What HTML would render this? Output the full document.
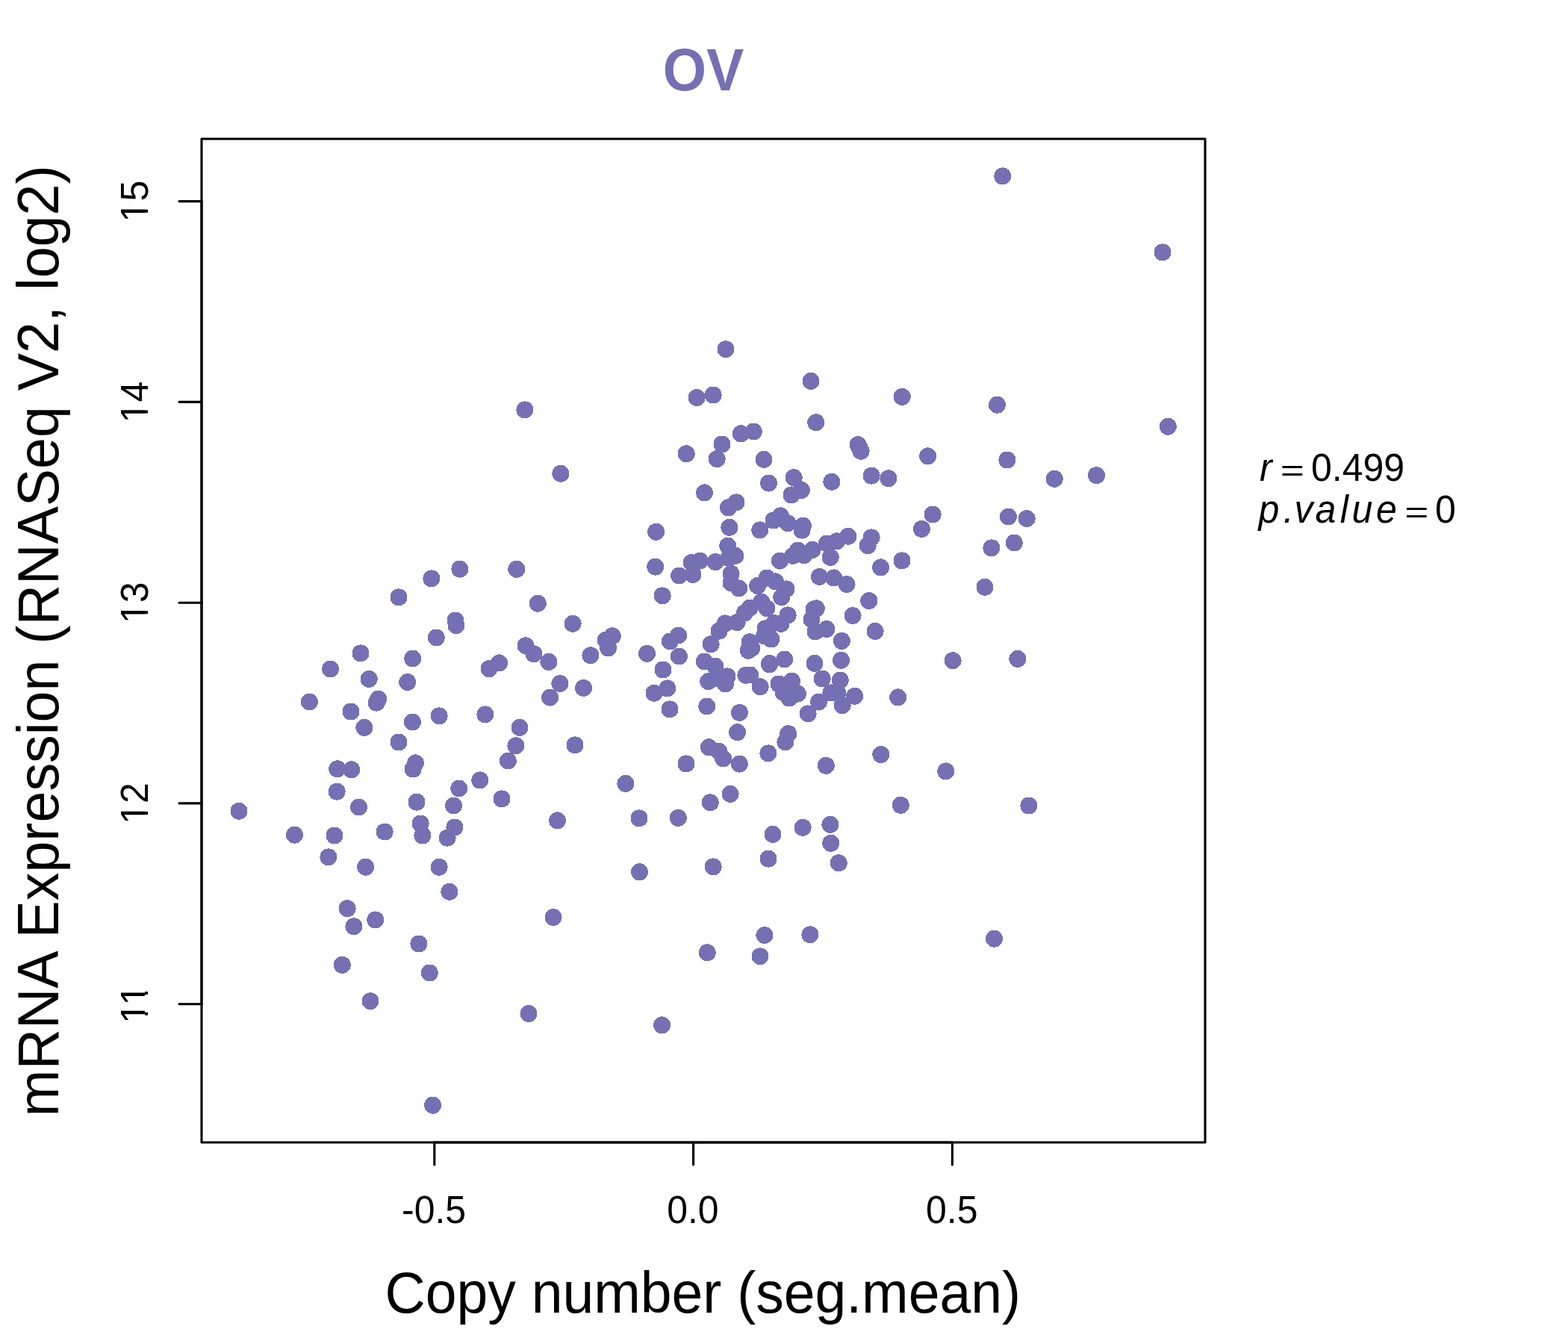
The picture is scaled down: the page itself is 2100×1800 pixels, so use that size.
<!DOCTYPE html>
<html lang="en"><head><meta charset="utf-8"><title>OV</title>
<style>
html,body{margin:0;padding:0;background:#fff}
body{width:2100px;height:1800px;overflow:hidden}
svg{display:block}
text{font-family:"Liberation Sans",Arial,Helvetica,sans-serif;fill:#000}
.pt{fill:#7570B3}
.ln{stroke:#000;stroke-width:3.1;fill:none;stroke-linecap:round;stroke-linejoin:round}
</style></head>
<body>
<svg xmlns="http://www.w3.org/2000/svg" width="2100" height="1800" viewBox="0 0 2100 1800">
<rect width="2100" height="1800" fill="#fff"/>
<g class="pt" shape-rendering="crispEdges">
<circle cx="1128.1" cy="944.7" r="11.5"/>
<circle cx="943.2" cy="886.0" r="11.5"/>
<circle cx="958.0" cy="892.3" r="11.5"/>
<circle cx="1037.1" cy="834.5" r="11.5"/>
<circle cx="1046.0" cy="835.3" r="11.5"/>
<circle cx="1027.0" cy="814.6" r="11.5"/>
<circle cx="1004.2" cy="814.0" r="11.5"/>
<circle cx="1144.6" cy="932.3" r="11.5"/>
<circle cx="1142.1" cy="824.5" r="11.5"/>
<circle cx="1044.4" cy="751.1" r="11.5"/>
<circle cx="1055.1" cy="823.9" r="11.5"/>
<circle cx="1025.1" cy="841.9" r="11.5"/>
<circle cx="1121.8" cy="928.1" r="11.5"/>
<circle cx="1057.0" cy="935.0" r="11.5"/>
<circle cx="1112.9" cy="927.9" r="11.5"/>
<circle cx="997.2" cy="820.9" r="11.5"/>
<circle cx="1019.8" cy="806.2" r="11.5"/>
<circle cx="984.9" cy="744.3" r="11.5"/>
<circle cx="1163.8" cy="804.6" r="11.5"/>
<circle cx="1172.1" cy="845.4" r="11.5"/>
<circle cx="974.0" cy="905.9" r="11.5"/>
<circle cx="952.1" cy="862.8" r="11.5"/>
<circle cx="1049.0" cy="927.4" r="11.5"/>
<circle cx="990.4" cy="954.4" r="11.5"/>
<circle cx="1046.8" cy="799.8" r="11.5"/>
<circle cx="909.4" cy="879.0" r="11.5"/>
<circle cx="948.7" cy="912.6" r="11.5"/>
<circle cx="987.1" cy="833.6" r="11.5"/>
<circle cx="1068.4" cy="929.1" r="11.5"/>
<circle cx="1096.5" cy="940.1" r="11.5"/>
<circle cx="1018.1" cy="919.8" r="11.5"/>
<circle cx="974.8" cy="731.2" r="11.5"/>
<circle cx="987.6" cy="980.7" r="11.5"/>
<circle cx="1032.9" cy="856.0" r="11.5"/>
<circle cx="971.5" cy="916.0" r="11.5"/>
<circle cx="1061.9" cy="744.3" r="11.5"/>
<circle cx="1055.7" cy="982.7" r="11.5"/>
<circle cx="1127.3" cy="858.4" r="11.5"/>
<circle cx="1043.0" cy="916.0" r="11.5"/>
<circle cx="908.6" cy="851.0" r="11.5"/>
<circle cx="1125.2" cy="911.0" r="11.5"/>
<circle cx="1004.2" cy="859.8" r="11.5"/>
<circle cx="1017.8" cy="709.9" r="11.5"/>
<circle cx="1101.1" cy="909.0" r="11.5"/>
<circle cx="1053.0" cy="788.9" r="11.5"/>
<circle cx="989.8" cy="788.0" r="11.5"/>
<circle cx="1060.4" cy="912.2" r="11.5"/>
<circle cx="897.2" cy="859.0" r="11.5"/>
<circle cx="1068.5" cy="737.1" r="11.5"/>
<circle cx="976.9" cy="706.3" r="11.5"/>
<circle cx="998.9" cy="904.2" r="11.5"/>
<circle cx="963.0" cy="845.1" r="11.5"/>
<circle cx="1014.7" cy="784.5" r="11.5"/>
<circle cx="893.8" cy="921.9" r="11.5"/>
<circle cx="1082.1" cy="955.9" r="11.5"/>
<circle cx="1002.3" cy="871.2" r="11.5"/>
<circle cx="1134.1" cy="782.5" r="11.5"/>
<circle cx="1006.7" cy="868.2" r="11.5"/>
<circle cx="971.2" cy="834.9" r="11.5"/>
<circle cx="1051.9" cy="993.9" r="11.5"/>
<circle cx="1074.0" cy="710.1" r="11.5"/>
<circle cx="979.0" cy="780.8" r="11.5"/>
<circle cx="1055.0" cy="700.8" r="11.5"/>
<circle cx="1004.8" cy="904.0" r="11.5"/>
<circle cx="1075.4" cy="704.2" r="11.5"/>
<circle cx="1038.4" cy="778.9" r="11.5"/>
<circle cx="958.3" cy="752.6" r="11.5"/>
<circle cx="1087.0" cy="829.8" r="11.5"/>
<circle cx="1077.0" cy="743.6" r="11.5"/>
<circle cx="888.0" cy="897.0" r="11.5"/>
<circle cx="1107.0" cy="842.5" r="11.5"/>
<circle cx="1036.0" cy="697.0" r="11.5"/>
<circle cx="1027.0" cy="774.1" r="11.5"/>
<circle cx="1116.7" cy="773.9" r="11.5"/>
<circle cx="1092.0" cy="845.9" r="11.5"/>
<circle cx="1202.7" cy="933.9" r="11.5"/>
<circle cx="1093.3" cy="814.9" r="11.5"/>
<circle cx="1045.3" cy="690.9" r="11.5"/>
<circle cx="1091.0" cy="888.3" r="11.5"/>
<circle cx="979.1" cy="768.2" r="11.5"/>
<circle cx="1097.5" cy="772.4" r="11.5"/>
<circle cx="1050.8" cy="883.0" r="11.5"/>
<circle cx="1088.1" cy="736.3" r="11.5"/>
<circle cx="1028.9" cy="1008.9" r="11.5"/>
<circle cx="876.0" cy="928.2" r="11.5"/>
<circle cx="1126.5" cy="884.3" r="11.5"/>
<circle cx="946.8" cy="946.0" r="11.5"/>
<circle cx="1030.8" cy="888.5" r="11.5"/>
<circle cx="494.2" cy="909.4" r="11.5"/>
<circle cx="1468.5" cy="636.6" r="11.5"/>
<circle cx="442.5" cy="896.0" r="11.5"/>
<circle cx="1412.2" cy="641.3" r="11.5"/>
<circle cx="1113.9" cy="645.2" r="11.5"/>
<circle cx="781.5" cy="921.4" r="11.5"/>
<circle cx="489.6" cy="1161.2" r="11.5"/>
<circle cx="750.9" cy="634.2" r="11.5"/>
<circle cx="749.9" cy="915.5" r="11.5"/>
<circle cx="1167.1" cy="637.1" r="11.5"/>
<circle cx="1123.2" cy="1155.8" r="11.5"/>
<circle cx="1153.1" cy="604.2" r="11.5"/>
<circle cx="1073.4" cy="656.5" r="11.5"/>
<circle cx="790.9" cy="877.8" r="11.5"/>
<circle cx="483.0" cy="874.9" r="11.5"/>
<circle cx="506.8" cy="936.1" r="11.5"/>
<circle cx="1063.2" cy="639.6" r="11.5"/>
<circle cx="439.9" cy="1147.9" r="11.5"/>
<circle cx="736.6" cy="934.1" r="11.5"/>
<circle cx="1149.1" cy="595.7" r="11.5"/>
<circle cx="1060.0" cy="662.9" r="11.5"/>
<circle cx="414.3" cy="940.0" r="11.5"/>
<circle cx="734.9" cy="886.4" r="11.5"/>
<circle cx="504.1" cy="941.1" r="11.5"/>
<circle cx="856.5" cy="1167.8" r="11.5"/>
<circle cx="465.1" cy="1216.8" r="11.5"/>
<circle cx="814.6" cy="867.8" r="11.5"/>
<circle cx="1189.9" cy="640.8" r="11.5"/>
<circle cx="866.5" cy="875.3" r="11.5"/>
<circle cx="811.2" cy="857.2" r="11.5"/>
<circle cx="470.0" cy="953.0" r="11.5"/>
<circle cx="741.1" cy="1228.5" r="11.5"/>
<circle cx="545.7" cy="913.6" r="11.5"/>
<circle cx="1112.7" cy="1129.3" r="11.5"/>
<circle cx="502.8" cy="1231.9" r="11.5"/>
<circle cx="820.2" cy="851.8" r="11.5"/>
<circle cx="714.9" cy="875.8" r="11.5"/>
<circle cx="1362.9" cy="882.4" r="11.5"/>
<circle cx="552.8" cy="882.0" r="11.5"/>
<circle cx="473.9" cy="1240.8" r="11.5"/>
<circle cx="448.0" cy="1119.0" r="11.5"/>
<circle cx="394.5" cy="1118.2" r="11.5"/>
<circle cx="552.4" cy="967.0" r="11.5"/>
<circle cx="1035.0" cy="1117.3" r="11.5"/>
<circle cx="1092.8" cy="565.8" r="11.5"/>
<circle cx="1375.2" cy="694.5" r="11.5"/>
<circle cx="1029.5" cy="647.1" r="11.5"/>
<circle cx="704.0" cy="864.8" r="11.5"/>
<circle cx="515.1" cy="1114.0" r="11.5"/>
<circle cx="1029.0" cy="1150.1" r="11.5"/>
<circle cx="487.9" cy="974.4" r="11.5"/>
<circle cx="1350.4" cy="692.0" r="11.5"/>
<circle cx="767.1" cy="835.2" r="11.5"/>
<circle cx="565.9" cy="1119.0" r="11.5"/>
<circle cx="1348.9" cy="616.0" r="11.5"/>
<circle cx="1075.1" cy="1108.2" r="11.5"/>
<circle cx="1084.9" cy="1251.8" r="11.5"/>
<circle cx="1023.0" cy="615.3" r="11.5"/>
<circle cx="1023.9" cy="1252.5" r="11.5"/>
<circle cx="696.0" cy="974.4" r="11.5"/>
<circle cx="1111.9" cy="1104.3" r="11.5"/>
<circle cx="897.0" cy="949.9" r="11.5"/>
<circle cx="563.1" cy="1103.0" r="11.5"/>
<circle cx="702.9" cy="548.9" r="11.5"/>
<circle cx="746.5" cy="1098.9" r="11.5"/>
<circle cx="886.6" cy="1372.9" r="11.5"/>
<circle cx="878.6" cy="712.3" r="11.5"/>
<circle cx="560.9" cy="1264.0" r="11.5"/>
<circle cx="856.0" cy="1095.9" r="11.5"/>
<circle cx="579.6" cy="1480.2" r="11.5"/>
<circle cx="1009.2" cy="578.0" r="11.5"/>
<circle cx="1557.0" cy="337.9" r="11.5"/>
<circle cx="1335.5" cy="542.2" r="11.5"/>
<circle cx="1135.9" cy="718.2" r="11.5"/>
<circle cx="908.3" cy="1095.4" r="11.5"/>
<circle cx="1331.5" cy="1257.2" r="11.5"/>
<circle cx="534.0" cy="994.0" r="11.5"/>
<circle cx="584.2" cy="854.0" r="11.5"/>
<circle cx="1234.4" cy="708.4" r="11.5"/>
<circle cx="1167.1" cy="719.9" r="11.5"/>
<circle cx="770.0" cy="997.9" r="11.5"/>
<circle cx="588.1" cy="958.9" r="11.5"/>
<circle cx="588.1" cy="1161.2" r="11.5"/>
<circle cx="690.9" cy="998.8" r="11.5"/>
<circle cx="1564.3" cy="571.2" r="11.5"/>
<circle cx="1120.7" cy="724.9" r="11.5"/>
<circle cx="720.3" cy="808.2" r="11.5"/>
<circle cx="1358.2" cy="727.0" r="11.5"/>
<circle cx="708.0" cy="1357.5" r="11.5"/>
<circle cx="1242.6" cy="610.9" r="11.5"/>
<circle cx="1107.2" cy="728.0" r="11.5"/>
<circle cx="1208.2" cy="531.4" r="11.5"/>
<circle cx="480.5" cy="1081.0" r="11.5"/>
<circle cx="919.2" cy="607.7" r="11.5"/>
<circle cx="1162.1" cy="730.8" r="11.5"/>
<circle cx="1018.0" cy="1280.8" r="11.5"/>
<circle cx="1377.9" cy="1079.0" r="11.5"/>
<circle cx="668.6" cy="887.9" r="11.5"/>
<circle cx="1206.3" cy="1078.3" r="11.5"/>
<circle cx="992.3" cy="580.8" r="11.5"/>
<circle cx="1327.9" cy="733.9" r="11.5"/>
<circle cx="599.1" cy="1122.1" r="11.5"/>
<circle cx="1249.1" cy="689.0" r="11.5"/>
<circle cx="534.0" cy="799.9" r="11.5"/>
<circle cx="1179.8" cy="1010.6" r="11.5"/>
<circle cx="558.0" cy="1074.1" r="11.5"/>
<circle cx="601.9" cy="1194.2" r="11.5"/>
<circle cx="887.1" cy="797.9" r="11.5"/>
<circle cx="986.0" cy="672.9" r="11.5"/>
<circle cx="672.0" cy="1069.9" r="11.5"/>
<circle cx="458.3" cy="1292.3" r="11.5"/>
<circle cx="607.5" cy="1079.0" r="11.5"/>
<circle cx="933.2" cy="532.5" r="11.5"/>
<circle cx="608.9" cy="1108.0" r="11.5"/>
<circle cx="680.3" cy="1019.0" r="11.5"/>
<circle cx="496.0" cy="1340.8" r="11.5"/>
<circle cx="610.0" cy="831.0" r="11.5"/>
<circle cx="655.0" cy="895.7" r="11.5"/>
<circle cx="611.0" cy="837.8" r="11.5"/>
<circle cx="1112.2" cy="746.4" r="11.5"/>
<circle cx="556.5" cy="1021.9" r="11.5"/>
<circle cx="978.1" cy="1063.4" r="11.5"/>
<circle cx="919.0" cy="1022.9" r="11.5"/>
<circle cx="990.3" cy="1023.1" r="11.5"/>
<circle cx="1319.0" cy="786.2" r="11.5"/>
<circle cx="1342.8" cy="235.9" r="11.5"/>
<circle cx="1086.0" cy="510.4" r="11.5"/>
<circle cx="975.4" cy="679.8" r="11.5"/>
<circle cx="451.1" cy="1060.1" r="11.5"/>
<circle cx="649.9" cy="956.9" r="11.5"/>
<circle cx="1106.3" cy="1025.3" r="11.5"/>
<circle cx="1208.0" cy="750.9" r="11.5"/>
<circle cx="937.2" cy="751.1" r="11.5"/>
<circle cx="575.2" cy="1303.0" r="11.5"/>
<circle cx="972.0" cy="467.8" r="11.5"/>
<circle cx="943.5" cy="659.9" r="11.5"/>
<circle cx="926.2" cy="753.6" r="11.5"/>
<circle cx="614.8" cy="1056.0" r="11.5"/>
<circle cx="451.8" cy="1029.8" r="11.5"/>
<circle cx="553.1" cy="1030.0" r="11.5"/>
<circle cx="320.0" cy="1086.2" r="11.5"/>
<circle cx="470.7" cy="1030.8" r="11.5"/>
<circle cx="947.2" cy="1275.8" r="11.5"/>
<circle cx="1266.8" cy="1032.9" r="11.5"/>
<circle cx="967.0" cy="595.0" r="11.5"/>
<circle cx="877.8" cy="759.1" r="11.5"/>
<circle cx="949.4" cy="1000.8" r="11.5"/>
<circle cx="1179.5" cy="759.9" r="11.5"/>
<circle cx="577.9" cy="774.9" r="11.5"/>
<circle cx="837.9" cy="1049.4" r="11.5"/>
<circle cx="1276.1" cy="884.7" r="11.5"/>
<circle cx="951.2" cy="1074.8" r="11.5"/>
<circle cx="691.8" cy="762.3" r="11.5"/>
<circle cx="909.7" cy="771.0" r="11.5"/>
<circle cx="960.2" cy="614.6" r="11.5"/>
<circle cx="955.1" cy="529.0" r="11.5"/>
<circle cx="642.8" cy="1044.9" r="11.5"/>
<circle cx="955.1" cy="1160.9" r="11.5"/>
<circle cx="927.9" cy="769.4" r="11.5"/>
<circle cx="615.9" cy="762.1" r="11.5"/>
<circle cx="960.4" cy="908.6" r="11.5"/>
<circle cx="1023.7" cy="851.8" r="11.5"/>
<circle cx="1030.5" cy="889.8" r="11.5"/>
<circle cx="976.0" cy="747.5" r="11.5"/>
<circle cx="1090.1" cy="816.0" r="11.5"/>
<circle cx="1151.1" cy="599.9" r="11.5"/>
<circle cx="962.8" cy="1006.2" r="11.5"/>
<circle cx="968.7" cy="1016.0" r="11.5"/>
<circle cx="1059.2" cy="913.7" r="11.5"/>
</g>
<g class="ln">
<rect x="270" y="186" width="1344" height="1344"/>
<path d="M581.8 1530H1275.4"/>
<path d="M581.8 1530v30"/>
<path d="M928.6 1530v30"/>
<path d="M1275.4 1530v30"/>
<path d="M270 1344.7V269.6"/>
<path d="M270 1344.7h-30"/>
<path d="M270 1075.9h-30"/>
<path d="M270 807.2h-30"/>
<path d="M270 538.4h-30"/>
<path d="M270 269.6h-30"/>
</g>
<text transform="translate(581.0999999999999 1638.3) scale(1 1.04)" font-size="50" text-anchor="middle">-0.5</text>
<text transform="translate(927.9 1638.3) scale(1 1.04)" font-size="50" text-anchor="middle">0.0</text>
<text transform="translate(1274.7 1638.3) scale(1 1.04)" font-size="50" text-anchor="middle">0.5</text>
<clipPath id="one"><path d="M-40-60H40V20H0V-4.4H-11.1V3H-15.1V-4.4H-40Z"/></clipPath>
<clipPath id="two"><path d="M-40-60H40V-4.4H16.7V3H12.7V-4.4H-11.1V3H-15.1V-4.4H-40Z"/></clipPath>
<text transform="translate(198.4 1344.7) rotate(-90) scale(1 1.04)" font-size="50" text-anchor="middle" clip-path="url(#two)">11</text>
<text transform="translate(198.4 1075.9) rotate(-90) scale(1 1.04)" font-size="50" text-anchor="middle" clip-path="url(#one)">12</text>
<text transform="translate(198.4 807.2) rotate(-90) scale(1 1.04)" font-size="50" text-anchor="middle" clip-path="url(#one)">13</text>
<text transform="translate(198.4 538.4) rotate(-90) scale(1 1.04)" font-size="50" text-anchor="middle" clip-path="url(#one)">14</text>
<text transform="translate(198.4 269.6) rotate(-90) scale(1 1.04)" font-size="50" text-anchor="middle" clip-path="url(#one)">15</text>
<text transform="translate(942 120.8) scale(1 1.06)" font-size="75" font-weight="bold" text-anchor="middle" style="fill:#7570B3">OV</text>
<text transform="translate(941.2 1758.3) scale(1.0015 1.03)" font-size="75" text-anchor="middle">Copy number (seg.mean)</text>
<text transform="translate(78 858.4) rotate(-90) scale(1.0055 1.03)" font-size="75" text-anchor="middle">mRNA Expression (RNASeq V2, log2)</text>
<g font-size="50">
<text transform="translate(1687 643.6) scale(1 1.04)" font-style="italic">r</text>
<text transform="translate(1714.8 644.2) scale(1.1 0.81)">=</text>
<text transform="translate(1756 643.6) scale(1 1.04)">0.499</text>
<text transform="translate(0 699.6) scale(1 1.04)" font-style="italic" x="1685.5 1718.8 1733.5 1761.6 1794.7 1810.5 1843">p.value</text>
<text transform="translate(1881.2 700.2) scale(1.1 0.81)">=</text>
<text transform="translate(1922 699.6) scale(1 1.04)">0</text>
</g>
</svg>
</body></html>
